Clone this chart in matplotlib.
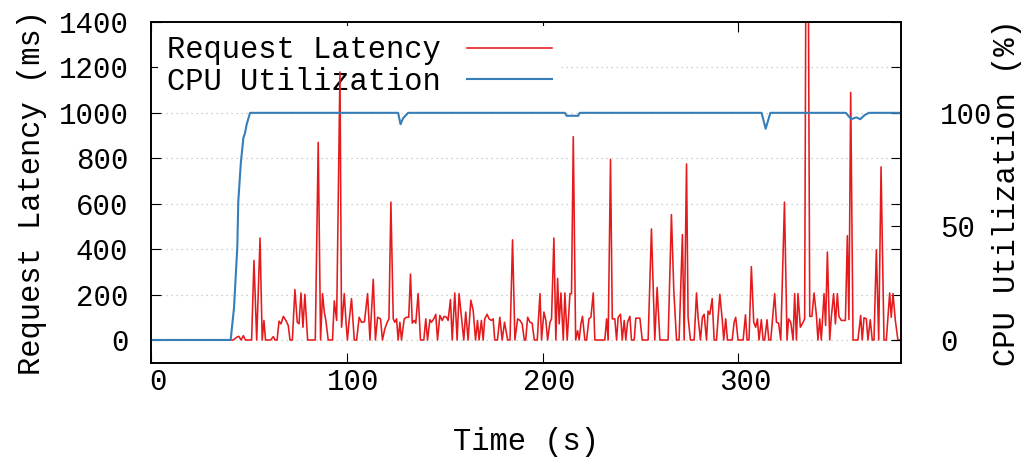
import matplotlib
matplotlib.use("Agg")
import matplotlib.pyplot as plt
import matplotlib.transforms as mtransforms

plt.rcParams['font.family'] = ['Liberation Mono', 'DejaVu Sans Mono']

# request latency samples (time in s, latency in ms)
lat_t = [0, 40.5, 42.2, 43.9, 45.0, 46.1, 47.3, 48.3, 49.5, 50.7, 51.5, 52.7, 54.1, 55.8, 56.9,
         57.8, 58.6, 59.8, 61.2, 62.6, 63.4, 64.5, 65.5, 66.5, 67.7, 69.0, 70.2, 71.1, 72.3,
         73.6, 74.8, 75.7, 76.7, 77.7, 78.7, 80.1, 81.4, 82.8, 84.0, 85.5, 86.7, 87.7, 88.6,
         89.4, 90.6, 91.8, 92.8, 93.7, 94.9, 96.6, 97.4, 98.8, 99.7, 100.4, 101.3, 102.5,
         103.9, 105.1, 106.4, 107.6, 109.1, 110.7, 111.9, 113.6, 114.7, 115.8, 117.3, 118.3,
         119.5, 120.7, 121.6, 122.6, 123.8, 124.6, 125.5, 126.3, 127.2, 128.0, 129.4, 130.6,
         131.7, 132.6, 133.5, 134.5, 135.3, 136.5, 137.7, 139.4, 140.4, 141.3, 142.5, 143.3,
         144.5, 145.5, 146.4, 147.6, 148.8, 149.8, 151.0, 151.8, 153.0, 153.9, 155.2, 156.4,
         157.4, 158.6, 159.8, 160.8, 162.0, 163.4, 164.6, 165.8, 166.8, 167.6, 168.8, 169.7,
         170.5, 171.7, 172.7, 173.9, 174.8, 175.6, 177.0, 178.2, 179.4, 180.6, 182.2, 183.4,
         184.7, 185.9, 187.3, 188.5, 189.6, 190.7, 191.4, 192.4, 193.6, 194.7, 195.8, 197.3,
         198.7, 199.5, 200.7, 201.7, 202.6, 203.8, 204.6, 205.8, 206.8, 207.7, 208.5, 209.4,
         210.6, 211.4, 212.6, 214.0, 214.8, 215.7, 216.9, 217.9, 218.7, 219.6, 220.4, 221.6,
         222.5, 223.7, 224.7, 225.9, 226.7, 228.4, 230.0, 231.8, 232.7, 233.5, 234.7, 235.6,
         236.9, 237.8, 238.6, 239.8, 240.7, 241.7, 242.5, 243.4, 244.6, 245.4, 246.8, 247.6,
         249.7, 250.9, 252.2, 253.9, 255.6, 257.3, 258.5, 259.9, 261.1, 264.1, 265.8, 267.0,
         268.4, 269.7, 271.4, 272.3, 273.5, 274.3, 275.5, 277.4, 278.6, 279.4, 280.6, 281.6,
         282.5, 283.7, 284.5, 285.4, 286.6, 287.6, 288.8, 290.5, 291.7, 292.5, 293.5, 294.4,
         295.6, 296.8, 297.8, 298.6, 299.8, 301.2, 302.4, 303.6, 304.4, 305.4, 306.6, 307.8,
         308.8, 309.7, 310.5, 311.7, 312.6, 313.4, 314.6, 315.5, 316.5, 318.5, 319.4, 320.5,
         321.6, 323.5, 324.8, 325.6, 326.7, 327.9, 328.7, 329.6, 330.4, 331.6, 333.0, 333.8,
         335.0, 336.4, 337.5, 338.6, 339.8, 340.6, 341.5, 342.3, 343.7, 344.5, 345.4, 346.6,
         347.4, 348.6, 349.5, 350.5, 351.3, 352.5, 353.7, 354.6, 355.6, 356.4, 357.3, 358.5,
         359.8, 361.0, 362.4, 363.2, 364.1, 365.3, 366.1, 367.3, 368.3, 369.2, 370.4, 371.6,
         372.8, 374.3, 375.5, 377.2, 378.0, 378.9, 380.1, 381.4, 383.0]
lat_ms = [0, 0, 0, 12, 16, 0, 19, 0, 0, 0, 0, 350, 0, 449, 0,
          86, 0, 0, 0, 15, 0, 0, 83, 71, 104, 86, 64, 0, 0,
          222, 78, 71, 207, 56, 201, 0, 0, 0, 0, 870, 0, 204, 123,
          86, 0, 0, 0, 172, 86, 1180, 56, 204, 78, 0, 86, 182,
          0, 0, 100, 78, 80, 204, 0, 267, 0, 100, 93, 0,
          49, 78, 93, 607, 93, 78, 93, 0, 78, 0, 93, 100,
          100, 290, 74, 86, 74, 204, 0, 0, 93, 0, 89, 78,
          93, 113, 0, 108, 86, 104, 100, 86, 178, 0, 207, 0,
          204, 100, 0, 123, 0, 175, 130, 0, 86, 0, 86, 0,
          93, 113, 93, 86, 93, 0, 0, 100, 0, 78, 0, 0,
          441, 0, 93, 86, 71, 0, 0, 100, 78, 74, 0, 0,
          204, 0, 123, 86, 0, 78, 93, 449, 0, 271, 71, 207,
          0, 207, 0, 204, 204, 895, 0, 41, 0, 71, 104, 0,
          0, 93, 100, 207, 0, 0, 0, 0, 93, 0, 795, 93,
          93, 0, 100, 113, 0, 86, 0, 78, 104, 0, 0, 96,
          96, 0, 0, 0, 489, 0, 231, 0, 0, 0, 552, 219,
          0, 0, 464, 0, 775, 100, 0, 0, 207, 100, 0, 100,
          113, 0, 127, 113, 182, 0, 0, 201, 93, 0, 93, 0,
          0, 0, 78, 100, 0, 0, 0, 111, 0, 0, 323, 78,
          56, 93, 0, 89, 0, 0, 89, 0, 0, 204, 78, 74,
          0, 607, 0, 93, 78, 0, 204, 0, 204, 56, 78, 93,
          3000, 104, 104, 207, 108, 0, 93, 0, 204, 64, 387, 0,
          100, 204, 71, 204, 104, 86, 86, 86, 459, 90, 1090, 0,
          0, 0, 108, 0, 98, 93, 0, 89, 0, 0, 397, 0,
          762, 0, 0, 207, 100, 204, 86, 0, 0]

# cpu utilization (time in s, percent)
cpu_t = [0, 40.8, 42.5, 44.2, 44.7, 46.0, 47.3, 48.1, 49.0, 50.7, 126.3, 127.5, 128.9, 131.4,
         211.4, 212.3, 218.2, 219.0, 311.8, 313.9, 316.3, 354.8, 357.6, 360.2, 362.2, 364.4,
         366.6, 383.0]
cpu_pct = [0, 0, 14, 41, 61, 78, 89, 91, 95, 100, 100, 95, 97.7, 100,
           100, 98.7, 98.7, 100, 100, 93, 100, 100, 97.2, 98, 97.2, 99,
           100, 100]

red = '#e41a1c'
blue = '#377eb8'

fig = plt.figure(figsize=(10.26, 4.58), dpi=100)
ax = fig.add_axes([0.1469, 0.2081, 0.7313, 0.7439])
ax2 = ax.twinx()

l1, = ax.plot(lat_t, lat_ms, color=red, lw=1.15, label='Request Latency', zorder=2)
l2, = ax2.plot(cpu_t, cpu_pct, color=blue, lw=1.5, label='CPU Utilization')

ax.set_xlim(0, 383)
ax.set_ylim(-100, 1400)
ax2.set_ylim(-10, 140)
ax.set_xticks([0, 100, 200, 300])
ax.set_yticks(range(0, 1401, 200))
ax2.set_yticks([0, 50, 100])

ax.yaxis.grid(True, color='#c0c0c0', linestyle=(0, (1, 3)), lw=0.9)
ax.set_axisbelow('line')

ax.tick_params(axis='both', direction='in', length=7, width=0.8, top=True, right=True,
               labelsize=21, colors='black')
ax.tick_params(axis='x', pad=4)
ax.tick_params(axis='y', pad=16)
ax2.tick_params(axis='y', direction='in', length=7, width=0.8, labelsize=21, pad=28)
for lab in ax2.get_yticklabels():
    lab.set_horizontalalignment('left')

shift = mtransforms.ScaledTranslation(0.07, 0, fig.dpi_scale_trans)
for lab in ax.get_xticklabels():
    lab.set_transform(lab.get_transform() + shift)

for sp in list(ax.spines.values()) + list(ax2.spines.values()):
    sp.set_linewidth(1.2)

ax.set_xlabel('Time (s)', fontsize=22, labelpad=22)
ax.set_ylabel('Request Latency (ms)', fontsize=22, labelpad=8)
ax2.set_ylabel('CPU Utilization (%)', fontsize=22, labelpad=0)

leg = ax.legend([l1, l2], ['Request Latency', 'CPU Utilization'], loc='upper left',
                bbox_to_anchor=(-0.0027, 1.0147),
                markerfirst=False, fontsize=22, handlelength=2.8, handletextpad=0.85,
                labelspacing=0.05, borderaxespad=0.3, borderpad=0.3,
                frameon=True, facecolor='white', edgecolor='none', framealpha=1,
                fancybox=False)
leg.set_zorder(1.8)

fig.savefig('out.png', dpi=100)
